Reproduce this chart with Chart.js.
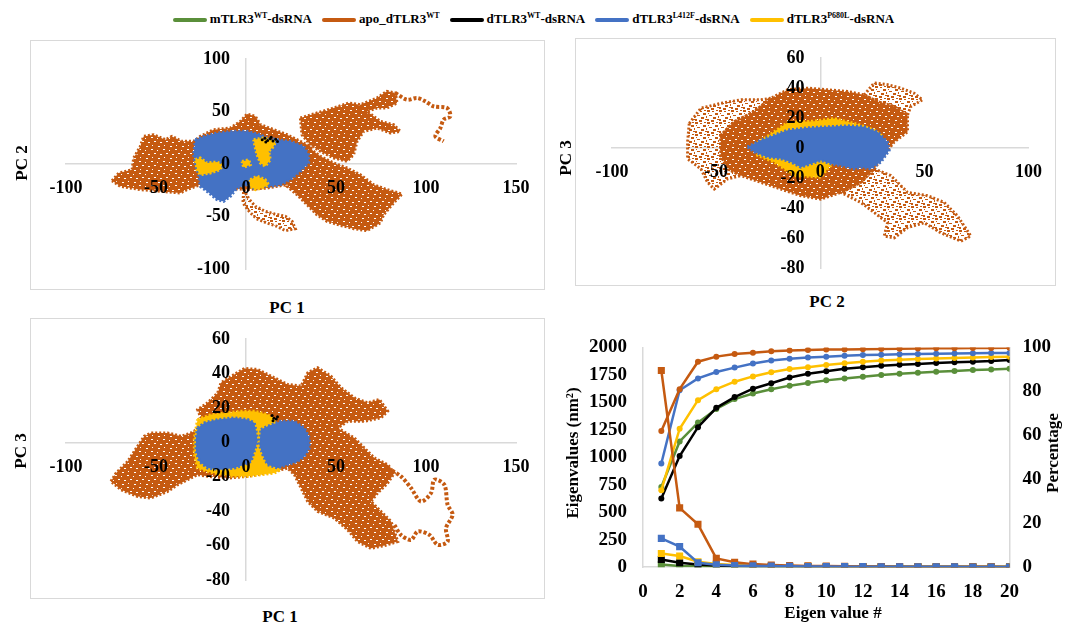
<!DOCTYPE html>
<html>
<head>
<meta charset="utf-8">
<script src="https://cdn.jsdelivr.net/npm/chart.js@4.4.0/dist/chart.umd.min.js"></script>
<style>
  body { margin: 0; background: #fff; width: 1067px; height: 625px; position: relative; overflow: hidden;
         font-family: 'Liberation Serif', 'Times New Roman', serif; }
  .box { position: absolute; }
  .frame { position: absolute; border: 1px solid #D9D9D9; box-sizing: border-box; }
  .t { position: absolute; font-weight: bold; font-size: 17px; white-space: nowrap; transform: translate(-50%, -50%); }
  .rot { transform: translate(-50%, -50%) rotate(-90deg); }
  #legend { position: absolute; top: 7px; left: 0; width: 1067px; display: flex; justify-content: center;
            font-weight: bold; font-size: 13px; line-height: 18px; }
  #legend span { margin: 0 5px; white-space: nowrap; }
  #legend i { display: inline-block; width: 34px; height: 4px; border-radius: 2px; vertical-align: middle; margin-right: 3px; }
  #legend sup { font-size: 8px; }
</style>
</head>
<body>
<div id="legend">
  <span><i style="background:#5A8F3A"></i>mTLR3<sup>WT</sup>-dsRNA</span>
  <span><i style="background:#C55A11"></i>apo_dTLR3<sup>WT</sup></span>
  <span><i style="background:#000"></i>dTLR3<sup>WT</sup>-dsRNA</span>
  <span><i style="background:#4472C4"></i>dTLR3<sup>L412F</sup>-dsRNA</span>
  <span><i style="background:#FFC000"></i>dTLR3<sup>P680L</sup>-dsRNA</span>
</div>

<div class="frame" style="left:30px;top:40px;width:515px;height:250px"></div>
<div class="frame" style="left:575px;top:38px;width:481px;height:248px"></div>
<div class="frame" style="left:30px;top:318px;width:515px;height:281px"></div>

<div class="box" style="left:30px;top:40px;width:515px;height:250px"><canvas id="c1"></canvas></div>
<div class="box" style="left:575px;top:38px;width:481px;height:248px"><canvas id="c2"></canvas></div>
<div class="box" style="left:30px;top:318px;width:515px;height:281px"><canvas id="c3"></canvas></div>
<div class="box" style="left:545px;top:320px;width:522px;height:305px"><canvas id="c4"></canvas></div>

<div class="t rot" style="left:22px;top:163px">PC 2</div>
<div class="t" style="left:287px;top:308px">PC 1</div>
<div class="t rot" style="left:566px;top:158px">PC 3</div>
<div class="t" style="left:827px;top:302px">PC 2</div>
<div class="t rot" style="left:21px;top:451px">PC 3</div>
<div class="t" style="left:280px;top:617px">PC 1</div>
<div class="t rot" style="left:573px;top:453px">Eigenvalues (nm²)</div>
<div class="t rot" style="left:1053px;top:453px">Percentage</div>
<div class="t" style="left:833px;top:613px">Eigen value #</div>

<script>
// ---- PC1 vs PC2 (panel 1) ----
const p1ApoCore = [[-74.4,-15.9],[-70.7,-8.6],[-63.3,-5.4],[-62.4,5.7],[-58.7,16.8],[-56.9,26.3],[-51.3,27.9],[-44.8,23.2],[-41.1,26.3],[-35.6,21.6],[-29.1,21.6],[-25.4,26.3],[-18,32.7],[-8.7,34.3],[-3.1,40.6],[0.6,47.6],[5.2,45.4],[8,37.5],[15.4,32.7],[22.8,27.9],[30.2,21.6],[35.7,16.8],[37.6,2.5],[30.2,-10.2],[22.8,-19.7],[11.7,-22.9],[0.6,-24.4],[-10.6,-22.9],[-25.4,-19.7],[-32.8,-24.4],[-36.5,-27.6],[-47.6,-26],[-58.7,-24.4],[-69.8,-21.3]];
const p1ApoArm = [[30.2,43.8],[39.4,48.6],[48.7,53.3],[57,58.1],[63.5,56.5],[72.8,62.9],[78.3,69.2],[83,67.6],[83.9,58.1],[78.3,53.3],[72.8,53.3],[67.2,50.2],[74.6,40.6],[82,37.5],[85.7,31.1],[80.2,29.5],[72.8,34.3],[65.4,31.1],[61.7,21.6],[59.8,8.9],[56.1,2.5],[48.7,5.7],[41.3,12.1],[35.7,18.4],[31.1,27.9]];
const p1ApoLoop = [[83,67.6],[89.4,61.3],[95,62.9],[99.6,59.7],[104.3,54.9],[111.7,53.3],[113.5,45.4],[109.8,42.2],[108,34.3],[105.2,26.3],[109.8,21.6]];
const p1ApoRight = [[33.9,16.8],[41.3,7.3],[48.7,1],[56.1,-3.8],[63.5,-10.2],[70.9,-19.7],[78.3,-24.4],[86.7,-28.6],[82,-37.1],[76.5,-48.3],[74.6,-56.2],[67.2,-63.5],[59.8,-61.6],[52.4,-58.4],[45,-54.6],[39.4,-48.3],[33.9,-38.7],[28.3,-29.2],[22.8,-21.3],[28.3,-10.2],[33.9,2.5]];
const p1ApoTail = [[-1.3,-24.4],[1.5,-33],[5.2,-40.3],[10.7,-45.1],[15.9,-47.6],[21.9,-49.8],[25.6,-54.6],[27.4,-61.6],[21.9,-63.5],[17.2,-59.4],[11.7,-56.2],[5.9,-52.1],[2,-45.7],[-1.7,-37.1]];
const p1L412F = [[-28.1,23.2],[-23.5,26.3],[-16.1,29.5],[-6.9,31.1],[0.6,31.1],[8,27.9],[11.7,24.8],[17.2,23.2],[24.6,21.6],[32,16.8],[34.8,8.9],[34.8,1],[30.2,-7],[24.6,-14.9],[19.1,-19.7],[13.5,-21.3],[8,-21.3],[4.3,-22.9],[0.6,-19.7],[-5,-22.9],[-8.7,-30.8],[-12.4,-35.6],[-16.1,-34],[-21.7,-26],[-25.4,-21.3],[-26.3,-10.2],[-28.1,-0.6],[-29.1,8.9]];
const p1P680L_a = [[-28.1,4.1],[-25.4,5.7],[-21.7,1],[-16.1,1.9],[-13.3,-0.6],[-14.3,-5.4],[-19.8,-8.6],[-25.4,-10.2],[-27.2,-5.4]];
const p1P680L_b = [[4.3,23.2],[9.8,24.8],[16.3,21.6],[15.4,16.8],[12.6,12.1],[13.5,4.1],[10.7,-2.2],[8,1],[6.1,8.9],[5.2,15.2]];
const p1P680L_c = [[2.4,-14.9],[6.1,-11.7],[10.7,-14.9],[12.6,-19.7],[8.9,-22.9],[5.2,-24.4],[2,-21.3]];
const p1P680L_d = [[-2.2,2.5],[1.5,4.1],[2.4,-0.6],[-1.3,-3.2]];
const p1WT = [[9,23],[10.5,24.5],[12,22.5],[13.5,24],[15,22],[16.5,23.5],[11,21],[14,25.5],[17.5,21.5]];

// ---- PC2 vs PC3 (panel 2) ----
const p2ApoCore = [[-47.7,8.5],[-41.3,17.5],[-31.7,24.2],[-23.7,33.2],[-15.7,38.8],[-6.1,39.9],[3.5,38.8],[13.1,37.7],[21.1,35.4],[27.5,30.9],[35.5,27.6],[41.9,22],[41.9,10.8],[35.5,4],[32.3,-1.6],[25.9,-13.9],[19.5,-22.9],[9.9,-29.6],[0.3,-34.1],[-9.3,-31.8],[-18.9,-27.4],[-28.5,-22.9],[-38.1,-18.4],[-44.5,-13.9],[-47.7,-4.9]];
const p2ApoLeft = [[-62.9,16.4],[-57.3,26.5],[-47.7,29.8],[-38.1,32.1],[-28.5,32.1],[-23.7,33.2],[-31.7,24.2],[-41.3,17.5],[-47.7,8.5],[-47.7,-4.9],[-44.5,-13.9],[-38.1,-18.4],[-44.5,-20.6],[-50.9,-27.4],[-54.1,-22.9],[-57.3,-13.9],[-63.7,-7.2],[-63.7,4]];
const p2ApoTop = [[21.1,35.4],[25.9,43.3],[32.3,42.2],[38.7,39.9],[45.1,36.5],[49.1,32.1],[43.5,27.6],[41.9,22],[35.5,27.6],[27.5,30.9]];
const p2ApoTail = [[25.9,-13.9],[33.9,-18.4],[41.9,-29.6],[51.5,-31.8],[59.5,-36.3],[65.9,-45.3],[72.3,-58.7],[67.5,-62.1],[57.9,-56.5],[49.9,-49.8],[41.9,-53.1],[35.5,-59.9],[30.7,-58.7],[32.3,-49.8],[25.9,-43],[19.5,-36.3],[9.9,-29.6],[19.5,-22.9]];
const p2P680L = [[-31.7,1.8],[-22.1,10.8],[-15.7,17],[-2.9,17.9],[6.7,19.7],[19.5,15.2],[25.9,11.9],[29.1,8.5],[25.9,-4.9],[16.3,-9.4],[6.7,-9.4],[3.5,-13.9],[0.3,-19.5],[-12.5,-18.4],[-17.3,-13.9],[-22.1,-9.4],[-30.1,-4.9]];
const p2L412F = [[-34.9,0.7],[-28.5,5.2],[-22.1,8.5],[-15.7,11.9],[-6.1,13.5],[3.5,14.1],[13.1,14.8],[21.1,14.1],[27.5,10.8],[32.3,4],[33.1,-1.6],[29.1,-9.4],[24.3,-13.9],[19.5,-12.8],[16.3,-13.9],[9.9,-11.7],[5.1,-10.5],[0.3,-8.3],[-4.5,-10.5],[-9.3,-12.8],[-14.1,-9.4],[-18.9,-7.2],[-25.3,-6.1],[-31.7,-2.7]];

// ---- PC1 vs PC3 (panel 3) ----
const p3ApoCore = [[-75,-22.7],[-72.2,-17.9],[-65.7,-11.1],[-60.2,-2.3],[-56.5,3.5],[-52.8,5.4],[-43.5,5.4],[-36.1,3.5],[-30.6,5.4],[-25.9,8.3],[-25,14.2],[-26.9,19],[-21.3,22.9],[-15.7,28.7],[-13.9,34.6],[-6.5,39.4],[-0.9,42.9],[6.5,42.3],[15.7,37.5],[23.1,33.6],[30.6,32.6],[34.3,40.4],[39.8,43.3],[47.2,38.4],[52.8,31.7],[60.2,25.8],[67.6,22.9],[74.1,24.9],[78.7,18.1],[75,14.2],[65.7,12.2],[56.5,12.2],[50.9,8.3],[60.2,2.5],[65.7,-3.3],[71.3,-9.1],[78.7,-13],[82.4,-17.9],[78.7,-23.7],[73.1,-29.5],[69.4,-34.4],[75,-40.2],[80.6,-46],[84.3,-57.7],[76.9,-60],[69.4,-61.6],[62,-57.7],[56.5,-50.9],[49.1,-44.1],[39.8,-40.2],[34.3,-34.4],[30.6,-26.6],[26.9,-18.8],[23.1,-15],[15.7,-16.9],[0.9,-19.8],[-10.2,-20.8],[-21.3,-19.8],[-26.9,-18.8],[-32.4,-21.7],[-38,-24.7],[-43.5,-28.5],[-52.8,-32.4],[-60.2,-31.5],[-69.4,-27.6]];
const p3ApoLoop = [[78.7,-15],[86.1,-19.8],[91.7,-26.6],[97.2,-34.4],[102.8,-29.5],[104.6,-21.7],[110.2,-24.7],[112,-36.3],[114.8,-42.1],[111.1,-49.9],[112,-57.7],[106.5,-59.6],[101.9,-53.8],[95.4,-51.8],[91.7,-56.7],[86.1,-53.8],[82.4,-48]];
const p3P680L = [[-26.9,13.2],[-19.4,16.1],[-10.2,17.1],[-2.8,18.1],[4.6,18.1],[12,16.1],[15.7,13.2],[17.6,9.3],[15.7,2.5],[13,-3.3],[12,-9.1],[15.7,-13],[19.4,-15.9],[15.7,-17.9],[8.3,-18.8],[0.9,-19.8],[-6.5,-19.8],[-13.9,-18.8],[-21.3,-16.9],[-26.9,-15],[-28.7,-7.2],[-28.7,2.5]];
const p3L412F_left = [[-26.9,8.3],[-23.1,11.3],[-15.7,13.2],[-6.5,14.2],[0.9,13.2],[4.6,11.3],[5.6,6.4],[6.5,0.6],[4.6,-5.2],[2.8,-11.1],[-0.9,-13],[-6.5,-15],[-13.9,-15.9],[-21.3,-15],[-25.9,-11.1],[-27.8,-5.2],[-27.8,2.5]];
const p3L412F_right = [[8.3,7.4],[12,9.3],[19.4,12.2],[26.9,12.2],[32.4,8.3],[35.2,2.5],[35.2,-3.3],[32.4,-8.2],[28.7,-11.1],[23.1,-13],[17.6,-15],[12,-13],[9.3,-7.2],[7.4,-1.4]];
const p3WT = [[14.5,15.5],[15.5,14],[16.8,13.5],[15,12.5],[17.5,14.8]];

// ---- eigenvalues / cumulative percentage (panel 4) ----
const eigenIndex = [1,2,3,4,5,6,7,8,9,10,11,12,13,14,15,16,17,18,19,20];
const eigApo   = [1790,540,390,80,45,28,20,15,12,10,8,7,6,5,4,4,3,3,3,2];
const eigL412F = [262,187,40,22,15,12,10,8,7,6,5,5,4,4,3,3,3,2,2,2];
const eigP680L = [125,102,50,30,20,14,11,9,8,7,6,5,4,4,3,3,3,2,2,2];
const eigWT    = [70,40,25,16,12,9,7,6,5,4,4,3,3,3,2,2,2,2,2,2];
const eigMouse = [25,12,8,6,5,4,3,3,3,2,2,2,2,2,1,1,1,1,1,1];
const pctApo   = [62,81,93.5,95.8,97,97.6,98.3,98.6,98.8,99,99.1,99.2,99.3,99.4,99.5,99.6,99.6,99.7,99.7,99.8];
const pctL412F = [47.2,80.5,85.9,88.8,90.8,92.7,94,94.8,95.4,95.8,96.2,96.5,96.7,96.9,97,97.1,97.2,97.3,97.4,97.5];
const pctP680L = [35,63,76,81,84.4,86.8,88.7,90.2,91,92,92.8,93.5,94,94.4,94.7,95,95.2,95.4,95.6,95.8];
const pctWT    = [31.3,50.6,63.7,72.5,77.4,81.2,83.7,86.3,88,89.2,90.3,91,91.6,92.1,92.5,92.9,93.2,93.5,93.8,94.3];
const pctMouse = [36.5,57.2,65.8,72,76.5,79,81,82.6,83.8,85,85.9,86.7,87.4,88,88.5,88.9,89.3,89.7,90,90.3];

const ORANGE = '#C55A11', BLUE = '#4472C4', YELLOW = '#FFC000', BLACK = '#000000', GREEN = '#5A8F3A';
const tickFont = { family: "'Liberation Serif', 'Times New Roman', serif", size: 18, weight: 'bold' };

// speckled fills for the trajectory clouds
function speckle(dense) {
  const c = document.createElement('canvas');
  c.width = 12; c.height = 12;
  const g = c.getContext('2d');
  g.fillStyle = ORANGE;
  if (dense) {
    g.fillRect(0, 0, 12, 12);
    g.fillStyle = '#ffffff';
    g.fillRect(1, 1, 2, 1); g.fillRect(7, 2, 1, 1); g.fillRect(4, 5, 2, 1);
    g.fillRect(10, 6, 2, 1); g.fillRect(2, 9, 1, 1); g.fillRect(8, 10, 2, 1);
  } else {
    g.fillRect(0, 0, 3, 2); g.fillRect(5, 1, 2, 1); g.fillRect(9, 0, 2, 1);
    g.fillRect(8, 3, 3, 2); g.fillRect(1, 3, 1, 1); g.fillRect(2, 5, 3, 1);
    g.fillRect(6, 7, 3, 2); g.fillRect(11, 6, 1, 2); g.fillRect(0, 9, 2, 2);
    g.fillRect(10, 9, 2, 1); g.fillRect(4, 10, 3, 2);
  }
  return g.createPattern(c, 'repeat');
}
const orangeDense = speckle(true);
const orangeSparse = speckle(false);

function shape(pts, fillStyle, color) {
  const closed = pts.concat([pts[0]]);
  return {
    data: closed.map(p => ({ x: p[0], y: p[1] })),
    showLine: true, fill: 'shape', backgroundColor: fillStyle,
    borderColor: color, borderWidth: 3, borderDash: [2, 2],
    pointRadius: 0, tension: 0
  };
}
function path(pts, color) {
  return {
    data: pts.map(p => ({ x: p[0], y: p[1] })),
    showLine: true, fill: false, borderColor: color, borderWidth: 4, borderDash: [3, 2],
    pointRadius: 0, tension: 0.3
  };
}
function dots(pts, color) {
  return { data: pts.map(p => ({ x: p[0], y: p[1] })), showLine: false, pointRadius: 1.5,
           backgroundColor: color, borderWidth: 0 };
}

// labelX: x value where the y tick labels end (a little left of the axis line)
function pcaChart(id, xr, yr, labelX, pad, layers) {
  const axisLine = (axis, min, max, pos) => ({
    type: 'linear', axis, min, max, position: pos,
    grid: { display: false, drawTicks: false },
    border: { color: '#D9D9D9', width: 1.5 },
    ticks: { display: false }
  });
  const axisText = (axis, min, max, step, pos, padding) => ({
    type: 'linear', axis, min, max, position: pos,
    grid: { display: false, drawTicks: false },
    border: { display: false },
    ticks: { z: 1, stepSize: step, padding, font: tickFont, color: '#000', autoSkip: false, maxRotation: 0 }
  });
  return new Chart(document.getElementById(id), {
    type: 'scatter',
    data: { datasets: layers.slice().reverse() },
    options: {
      responsive: true, maintainAspectRatio: false, animation: false,
      layout: { padding: pad },
      plugins: { legend: { display: false }, tooltip: { enabled: false } },
      scales: {
        x: axisLine('x', xr[0], xr[1], { y: 0 }),
        y: axisLine('y', yr[0], yr[1], { x: 0 }),
        xl: axisText('x', xr[0], xr[1], xr[2], { y: 0 }, 14),
        yl: axisText('y', yr[0], yr[1], yr[2], { x: labelX }, 0)
      }
    }
  });
}

// layers listed bottom to top
pcaChart('c1', [-100, 150, 50], [-100, 100, 50], -8.9, { left: 36, right: 29, top: 19, bottom: 21 }, [
  shape(p1ApoCore, orangeDense, ORANGE),
  shape(p1ApoArm, orangeDense, ORANGE),
  shape(p1ApoRight, orangeDense, ORANGE),
  shape(p1ApoTail, orangeSparse, ORANGE),
  path(p1ApoLoop, ORANGE),
  shape(p1L412F, BLUE, BLUE),
  shape(p1P680L_a, YELLOW, YELLOW),
  shape(p1P680L_b, YELLOW, YELLOW),
  shape(p1P680L_c, YELLOW, YELLOW),
  shape(p1P680L_d, YELLOW, YELLOW),
  dots(p1WT, BLACK)
]);

pcaChart('c2', [-100, 100, 50], [-80, 60, 20], -7.6, { left: 37, right: 24, top: 20, bottom: 18 }, [
  shape(p2ApoLeft, orangeSparse, ORANGE),
  shape(p2ApoTop, orangeSparse, ORANGE),
  shape(p2ApoTail, orangeSparse, ORANGE),
  shape(p2ApoCore, orangeDense, ORANGE),
  shape(p2P680L, YELLOW, YELLOW),
  shape(p2L412F, BLUE, BLUE)
]);

pcaChart('c3', [-100, 150, 50], [-80, 60, 20], -8.9, { left: 36, right: 29, top: 21, bottom: 19 }, [
  shape(p3ApoCore, orangeDense, ORANGE),
  path(p3ApoLoop, ORANGE),
  shape(p3P680L, YELLOW, YELLOW),
  shape(p3L412F_left, BLUE, BLUE),
  shape(p3L412F_right, BLUE, BLUE),
  dots(p3WT, BLACK)
]);

// eigenvalue panel
function series(values, color, axis, square) {
  return {
    data: eigenIndex.map((x, i) => ({ x, y: values[i] })),
    yAxisID: axis, borderColor: color, backgroundColor: color, borderWidth: 2.5,
    pointStyle: square ? 'rect' : 'circle', pointRadius: square ? 5 : 3, pointBorderWidth: 0,
    tension: 0
  };
}
const eigFont = { family: "'Liberation Serif', 'Times New Roman', serif", size: 19, weight: 'bold' };
const plain = v => String(v);
new Chart(document.getElementById('c4'), {
  type: 'line',
  data: {
    datasets: [
      series(eigL412F, BLUE, 'y', true),
      series(eigApo, ORANGE, 'y', true),
      series(eigP680L, YELLOW, 'y', true),
      series(eigWT, BLACK, 'y', true),
      series(eigMouse, GREEN, 'y', true),
      series(pctApo, ORANGE, 'y1', false),
      series(pctL412F, BLUE, 'y1', false),
      series(pctP680L, YELLOW, 'y1', false),
      series(pctWT, BLACK, 'y1', false),
      series(pctMouse, GREEN, 'y1', false)
    ]
  },
  options: {
    responsive: true, maintainAspectRatio: false, animation: false,
    layout: { padding: { left: 28, right: 3, top: 18, bottom: 9 } },
    plugins: { legend: { display: false }, tooltip: { enabled: false } },
    scales: {
      x: { type: 'linear', min: 0, max: 20,
           grid: { display: false, drawTicks: false }, border: { color: '#D9D9D9', width: 1.5 },
           ticks: { stepSize: 2, padding: 13, font: eigFont, color: '#000', maxRotation: 0, callback: plain } },
      y: { min: 0, max: 2000, position: 'left',
           grid: { display: false, drawTicks: false }, border: { color: '#D9D9D9', width: 1.5 },
           ticks: { stepSize: 250, padding: 16, font: eigFont, color: '#000', callback: plain } },
      y1: { min: 0, max: 100, position: 'right',
            grid: { display: false, drawTicks: false }, border: { color: '#D9D9D9', width: 1.5 },
            ticks: { stepSize: 20, padding: 13, font: eigFont, color: '#000', callback: plain } }
    }
  }
});
</script>
</body>
</html>
